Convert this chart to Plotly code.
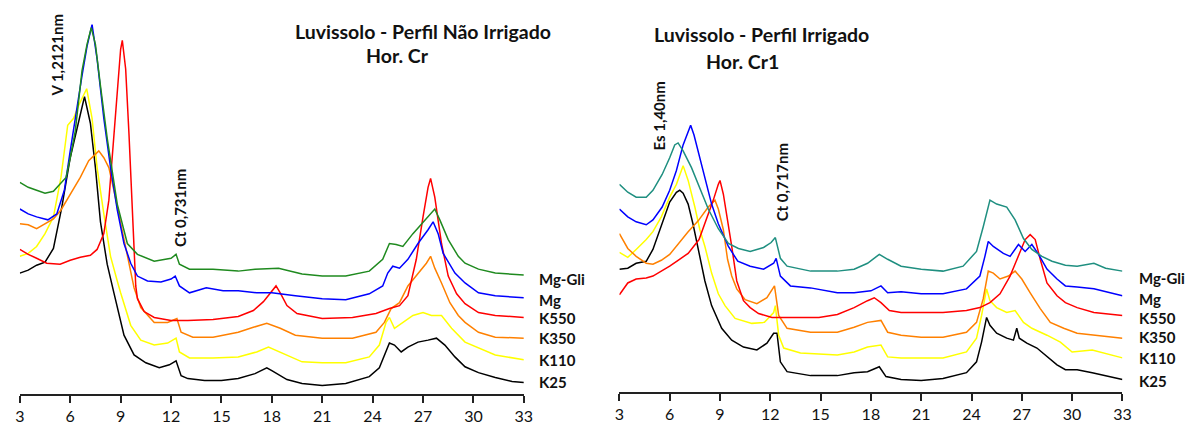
import plotly.graph_objects as go

# ---------------- LEFT PANEL: Luvissolo - Perfil Não Irrigado, Hor. Cr ----------------
L_k25_x = [3, 3.5, 4, 4.5, 5, 5.5, 6, 6.5, 6.85, 7.2, 7.5, 7.8, 8.2, 8.6, 9.2, 9.8, 10.5, 11.3, 11.9, 12.3, 12.6, 13, 14, 15, 16, 17, 17.7, 18, 18.9, 19.8, 21, 22.4, 23.8, 24.4, 24.7, 25, 25.3, 25.7, 26.1, 26.7, 27.3, 27.8, 28.3, 28.9, 29.5, 30.3, 31.3, 32.3, 33]
L_k25_y = [123, 126, 131, 134, 148, 190, 240, 275, 302, 275, 230, 175, 132, 103, 60, 40, 32, 27, 30, 34, 19, 16, 14, 14, 16, 21, 27, 24, 15, 11, 9, 11, 18, 27, 40, 52, 50, 43, 48, 53, 55, 57, 50, 38, 28, 22, 17, 13, 12]

L_k110_x = [3, 3.5, 4, 4.5, 5, 5.45, 5.85, 6.2, 6.5, 6.98, 7.3, 7.6, 8, 8.4, 8.8, 9.0, 9.6, 10.2, 11, 11.8, 12.3, 12.5, 13.1, 14.5, 16, 17.1, 17.8, 18.9, 19.8, 21, 22.4, 23.8, 24.4, 24.8, 25, 25.3, 25.8, 26.4, 27, 27.5, 28.1, 28.7, 29.5, 30.3, 31.3, 33]
L_k110_y = [140, 143, 150, 163, 180, 220, 273, 280, 293, 310, 280, 230, 183, 140, 115, 103, 70, 55, 50, 52, 57, 43, 37, 37, 38, 43, 48, 40, 33, 32, 32, 38, 50, 73, 78, 67, 73, 80, 83, 80, 80, 67, 53, 47, 40, 35]

L_k350_x = [3, 3.5, 4, 4.5, 5, 5.45, 6, 6.6, 7.1, 7.5, 7.7, 8, 8.3, 8.6, 9, 9.4, 9.8, 10.2, 11, 11.8, 12.35, 12.6, 13.3, 14.5, 16, 16.9, 17.7, 18.5, 19.4, 21, 22.8, 24.2, 24.7, 25.1, 25.6, 26.1, 26.7, 27.2, 27.45, 27.7, 28.1, 28.6, 29.1, 29.5, 30.3, 31.3, 33]
L_k350_y = [173, 172, 168, 173, 178, 187, 203, 220, 237, 243, 247, 240, 230, 207, 173, 140, 108, 88, 73, 73, 77, 63, 58, 58, 63, 68, 72, 67, 60, 57, 57, 63, 73, 87, 93, 110, 123, 133, 140, 128, 113, 93, 80, 73, 63, 58, 57]

L_k550_x = [3, 3.5, 4, 4.6, 5.4, 6, 6.6, 7.2, 7.6, 8, 8.3, 8.6, 8.8, 9.0, 9.1, 9.3, 9.5, 9.7, 9.9, 10.0, 10.4, 11, 12, 13, 14.5, 16, 16.9, 17.5, 18, 18.25, 18.5, 18.9, 19.5, 21, 22.8, 24.2, 25, 25.6, 26.1, 26.6, 27, 27.3, 27.45, 27.7, 28.1, 28.5, 29, 29.5, 30.3, 31.3, 33]
L_k550_y = [147, 142, 138, 133, 132, 136, 139, 141, 147, 163, 197, 263, 313, 350, 359, 330, 263, 180, 110, 97, 84, 78, 75, 75, 76, 79, 85, 94, 105, 110, 103, 90, 82, 77, 78, 82, 87, 90, 100, 137, 180, 210, 219, 200, 153, 120, 102, 92, 83, 80, 78]

L_mg_x = [3, 3.5, 4, 4.67, 5.2, 5.65, 6, 6.4, 6.7, 7, 7.3, 7.6, 8, 8.4, 8.8, 9.2, 9.6, 10, 10.6, 11.4, 12, 12.25, 12.5, 13.1, 14.1, 15.1, 16, 17.1, 18, 19.4, 21, 22.4, 23.8, 24.6, 24.9, 25.2, 25.6, 26.1, 26.7, 27.3, 27.6, 27.9, 28.2, 28.9, 29.5, 30.3, 31.3, 33]
L_mg_y = [188, 183, 180, 177, 183, 207, 247, 293, 323, 353, 375, 340, 280, 230, 187, 153, 133, 120, 115, 114, 117, 120, 110, 103, 108, 105, 105, 103, 103, 100, 97, 96, 102, 110, 123, 130, 128, 137, 153, 167, 175, 163, 143, 123, 113, 103, 100, 98]

L_mggli_x = [3, 3.5, 4, 4.5, 5, 5.5, 5.75, 6, 6.3, 6.7, 7, 7.25, 7.5, 7.8, 8.2, 8.8, 9.4, 10, 11, 12, 12.3, 12.5, 13.1, 14.5, 16, 17, 18.4, 19.8, 21, 22.4, 23.8, 24.6, 25, 25.4, 25.8, 26.4, 27, 27.4, 27.7, 28, 28.5, 29.1, 29.5, 30.3, 31.3, 33]
L_mggli_y = [215, 210, 207, 204, 206, 215, 220, 240, 267, 328, 355, 372, 355, 313, 260, 193, 153, 142, 135, 138, 142, 132, 127, 127, 125, 127, 128, 122, 120, 120, 125, 137, 153, 152, 150, 163, 175, 183, 188, 177, 157, 140, 133, 127, 123, 121]

# ---------------- RIGHT PANEL: Luvissolo - Perfil Irrigado, Hor. Cr1 ----------------
R_k25_x = [3, 3.5, 4, 4.6, 5, 5.5, 6, 6.4, 6.6, 6.8, 7.1, 7.4, 7.7, 8.1, 8.5, 9.1, 9.7, 10.4, 11.2, 11.8, 12.2, 12.4, 12.6, 13, 14.4, 16, 17, 17.8, 18.5, 18.9, 19.8, 21, 22.3, 23.7, 24.3, 24.6, 24.9, 25.1, 25.5, 26.1, 26.5, 26.7, 26.85, 27.3, 27.9, 28.5, 29.1, 29.6, 30.3, 31.2, 33]
R_k25_y = [125, 126, 131, 133, 145, 168, 193, 203, 205, 202, 191, 170, 145, 113, 88, 65, 53, 46, 43, 50, 60, 60, 31, 21, 17, 17, 20, 21, 26, 16, 13, 12, 14, 20, 31, 51, 76, 68, 60, 55, 53, 65, 55, 50, 45, 36, 28, 23, 23, 20, 13]

R_k110_x = [3, 3.5, 4, 4.6, 5, 5.5, 6, 6.4, 6.8, 7.1, 7.5, 7.8, 8.1, 8.5, 8.9, 9.3, 9.9, 10.9, 11.65, 12.2, 12.3, 12.5, 12.8, 13.8, 16, 17, 17.8, 18.6, 19, 19.8, 21, 22.3, 23.7, 24.3, 24.6, 24.9, 25.1, 25.5, 26.1, 26.6, 27.1, 27.6, 28.5, 29.3, 30, 31.2, 33]
R_k110_y = [142, 137, 145, 155, 163, 178, 198, 211, 230, 215, 188, 165, 148, 121, 100, 88, 75, 70, 71, 81, 88, 58, 45, 40, 38, 41, 46, 48, 36, 35, 35, 35, 41, 55, 78, 105, 93, 86, 81, 83, 71, 65, 58, 51, 41, 43, 35]

R_k350_x = [3, 3.5, 4, 4.6, 5, 5.5, 6, 6.5, 7.1, 7.7, 8.3, 8.7, 8.9, 9.2, 9.45, 9.7, 10, 10.5, 11.2, 11.8, 12.25, 12.5, 13, 14.4, 16, 17, 17.8, 18.6, 19, 19.8, 21, 22.3, 23.7, 24.3, 24.7, 25, 25.3, 25.7, 26.2, 26.6, 27, 27.5, 28.1, 28.7, 29.5, 30.3, 31.3, 33]
R_k350_y = [161, 146, 138, 131, 130, 134, 140, 151, 163, 174, 188, 195, 186, 165, 135, 118, 105, 94, 90, 96, 108, 78, 65, 61, 61, 66, 71, 73, 61, 58, 56, 56, 61, 71, 95, 123, 121, 115, 118, 123, 115, 101, 85, 71, 65, 60, 58, 55]

R_k550_x = [3, 3.5, 4, 4.6, 5, 5.5, 6, 6.5, 7.1, 7.75, 8.2, 8.6, 8.9, 9.0, 9.2, 9.4, 9.7, 10.0, 10.4, 10.8, 11.3, 12.1, 13.3, 14.9, 16, 17, 17.8, 18.2, 18.6, 19.1, 19.8, 21, 22.3, 23.7, 24.5, 25.1, 25.7, 26.3, 26.8, 27.2, 27.5, 27.8, 28.1, 28.5, 29.1, 29.6, 30.3, 31.3, 33]
R_k550_y = [99, 111, 115, 116, 118, 123, 128, 134, 141, 155, 176, 195, 211, 215, 201, 181, 148, 113, 93, 86, 80, 76, 76, 76, 79, 86, 93, 96, 91, 83, 81, 81, 81, 83, 86, 91, 100, 118, 138, 155, 160, 155, 135, 111, 98, 91, 86, 81, 78]

R_mg_x = [3, 3.5, 4, 4.6, 5, 5.55, 6, 6.4, 6.8, 7.1, 7.25, 7.45, 7.75, 8.1, 8.5, 8.9, 9.5, 10.06, 10.8, 11.6, 12.2, 12.35, 12.6, 13.2, 14.4, 16, 17, 18, 18.6, 19, 19.8, 21, 22.3, 23.7, 24.5, 24.8, 25, 25.3, 25.9, 26.3, 26.8, 27.2, 27.6, 28, 28.5, 29.1, 29.6, 30.3, 31.3, 33]
R_mg_y = [186, 178, 173, 170, 175, 188, 205, 225, 251, 265, 271, 261, 241, 215, 191, 171, 148, 133, 128, 125, 131, 136, 118, 108, 106, 101, 101, 103, 108, 101, 102, 100, 100, 105, 118, 138, 153, 148, 141, 138, 150, 143, 150, 140, 125, 115, 108, 107, 105, 98]

R_mggli_x = [3, 3.5, 4, 4.6, 5, 5.55, 6, 6.3, 6.5, 6.8, 7.3, 7.7, 8.3, 8.9, 9.5, 10.1, 10.8, 11.6, 12.05, 12.3, 12.6, 13, 14.4, 16, 17, 17.8, 18.5, 19, 19.8, 21, 22.3, 23.5, 24.3, 24.7, 25.1, 25.5, 26.1, 26.6, 27.1, 27.6, 28.2, 28.8, 29.6, 30.3, 31.3, 32, 33]
R_mggli_y = [211, 203, 198, 198, 205, 221, 238, 251, 253, 245, 228, 211, 186, 166, 151, 146, 143, 147, 152, 157, 136, 128, 123, 123, 125, 131, 140, 135, 128, 125, 123, 128, 143, 168, 195, 191, 188, 175, 156, 145, 138, 133, 129, 128, 131, 126, 123]

series_names = ["K25", "K110", "K350", "K550", "Mg", "Mg-Gli"]
left_colors = ["#000000", "#ffff00", "#ff8000", "#ff0000", "#0000ff", "#1f8a1f"]
right_colors = ["#000000", "#ffff00", "#ff8000", "#ff0000", "#0000ff", "#1f8f80"]

left_series = [(L_k25_x, L_k25_y), (L_k110_x, L_k110_y), (L_k350_x, L_k350_y),
               (L_k550_x, L_k550_y), (L_mg_x, L_mg_y), (L_mggli_x, L_mggli_y)]
right_series = [(R_k25_x, R_k25_y), (R_k110_x, R_k110_y), (R_k350_x, R_k350_y),
                (R_k550_x, R_k550_y), (R_mg_x, R_mg_y), (R_mggli_x, R_mggli_y)]

W, H = 1191, 425
FONT = "Lato"

fig = go.Figure()
for (xs, ys), c, n in zip(left_series, left_colors, series_names):
    fig.add_trace(go.Scatter(x=xs, y=ys, mode="lines", name=n,
                             line=dict(color=c, width=1.5), xaxis="x", yaxis="y"))
for (xs, ys), c, n in zip(right_series, right_colors, series_names):
    fig.add_trace(go.Scatter(x=xs, y=ys, mode="lines", name=n,
                             line=dict(color=c, width=1.5), xaxis="x2", yaxis="y2"))

tick_vals = list(range(3, 34, 3))
xcommon = dict(range=[3, 33], tickvals=tick_vals, ticktext=[str(v) for v in tick_vals],
               showline=True, linecolor="#222", linewidth=1.5, ticks="outside",
               ticklen=7, tickwidth=1.5, tickcolor="#222", showgrid=False,
               zeroline=False, tickfont=dict(family=FONT, size=16, color="#111"))

fig.update_layout(
    width=W, height=H, margin=dict(l=0, r=0, t=0, b=0),
    paper_bgcolor="white", plot_bgcolor="white", showlegend=False,
    xaxis=dict(domain=[15 / W, 525 / W], anchor="y", **xcommon),
    yaxis=dict(domain=[25 / H, 1], range=[0, 400], visible=False),
    xaxis2=dict(domain=[621.7 / W, 1130.7 / W], anchor="y2", **xcommon),
    yaxis2=dict(domain=[27 / H, 1], range=[0, 398], visible=False),
)

def px(xp, yp):
    return xp / W, 1 - yp / H

annots = []
def text(t, xp, yp, size, angle=0, xanchor="center"):
    x, y = px(xp, yp)
    annots.append(dict(text=t, x=x, y=y, xref="paper", yref="paper", showarrow=False,
                       textangle=angle, xanchor=xanchor, yanchor="middle",
                       font=dict(family=FONT, size=size, color="#111")))

text("<b>Luvissolo - Perfil Não Irrigado</b>", 423, 32, 19.5)
text("<b>Hor. Cr</b>", 397, 56, 19.5)
text("<b>Luvissolo - Perfil Irrigado</b>", 766, 35, 19.5)
text("<b>Hor. Cr1</b>", 746, 62, 19.5)

text("<b>V 1,2121nm</b>", 53, 56, 15, angle=-90)
text("<b>Ct 0,731nm</b>", 177, 211, 15, angle=-90)
text("<b>Es 1,40nm</b>", 662, 118, 15, angle=-90)
text("<b>Ct 0,717nm</b>", 787, 185, 15, angle=-90)

left_label_y = [387, 365, 343, 323, 304, 283]
right_label_y = [386, 363, 342, 323, 303, 282]
for n, yl, yr in zip(series_names, left_label_y, right_label_y):
    text("<b>" + n + "</b>", 538, yl, 15, xanchor="left")
    text("<b>" + n + "</b>", 1145, yr, 15, xanchor="left")

fig.update_layout(annotations=annots)
fig.write_html("out.html")
